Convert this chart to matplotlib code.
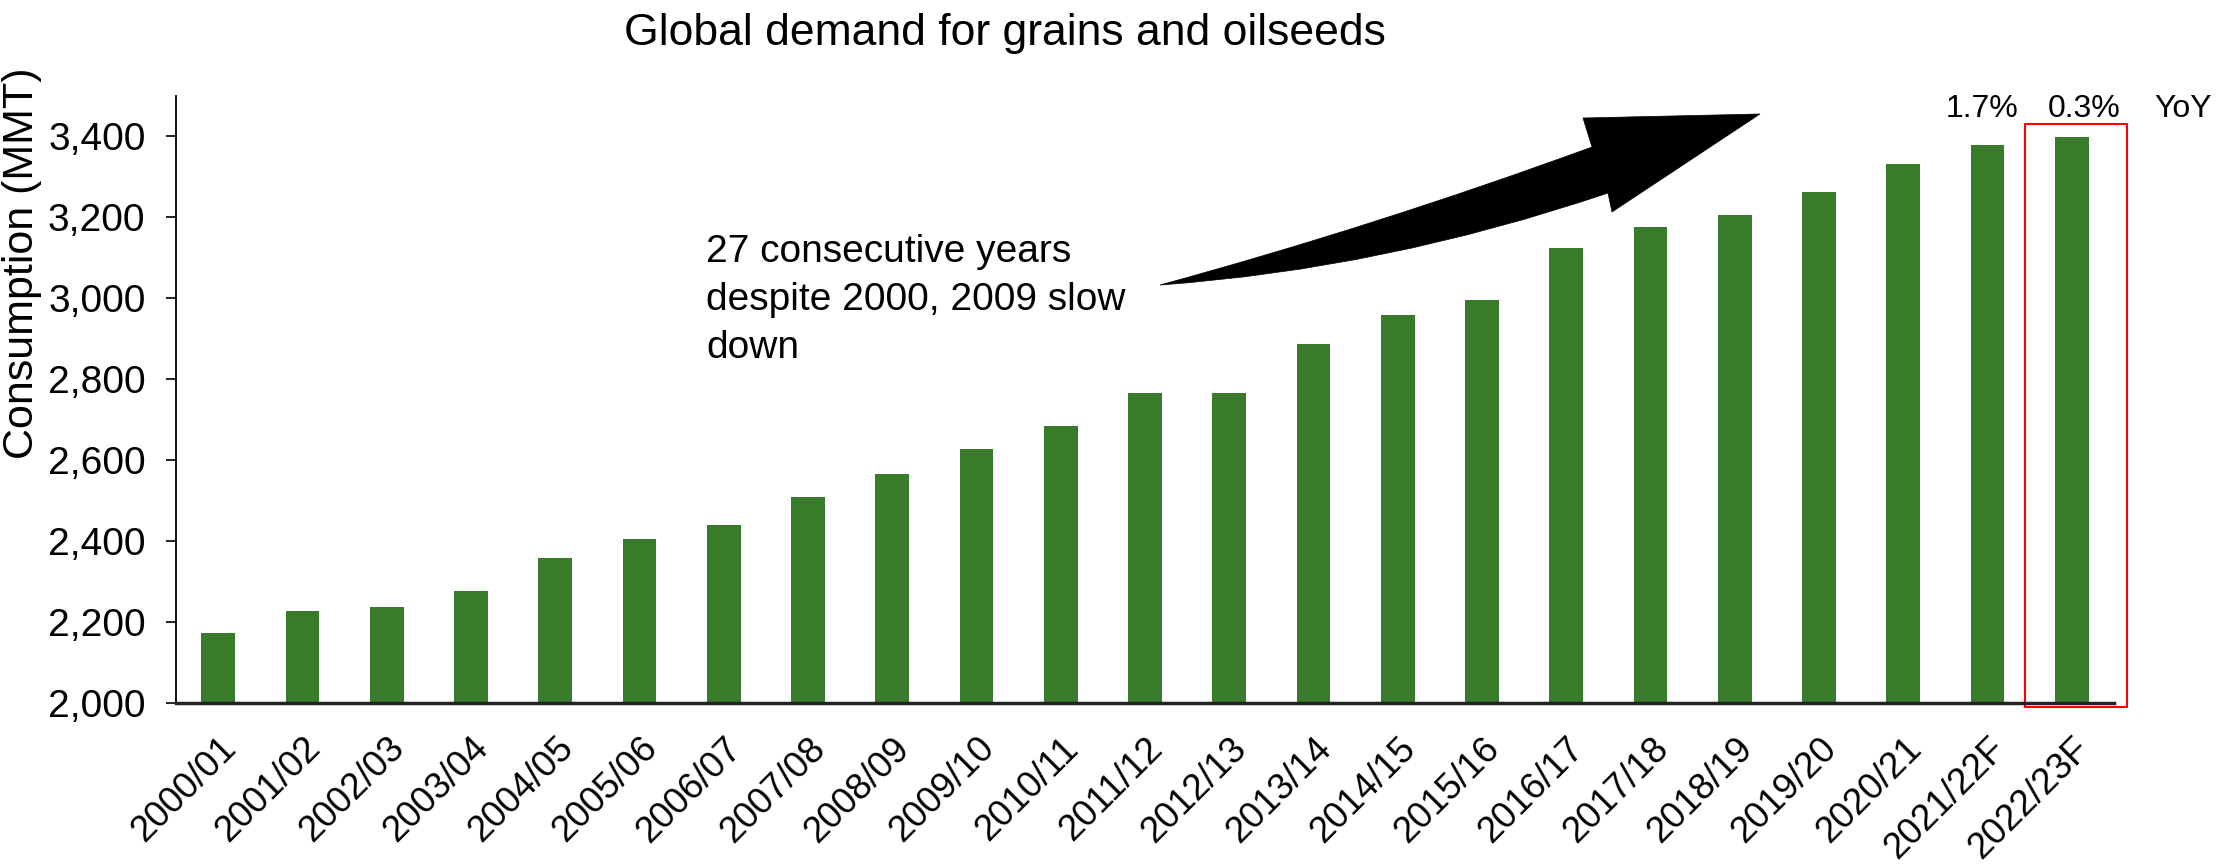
import numpy as np
import matplotlib
matplotlib.use('Agg')
import matplotlib.pyplot as plt
from matplotlib.path import Path
from matplotlib.patches import PathPatch, Rectangle

plt.rcParams['font.family'] = ['Liberation Sans', 'DejaVu Sans']

seasons = ['2000/01', '2001/02', '2002/03', '2003/04', '2004/05', '2005/06',
           '2006/07', '2007/08', '2008/09', '2009/10', '2010/11', '2011/12',
           '2012/13', '2013/14', '2014/15', '2015/16', '2016/17', '2017/18',
           '2018/19', '2019/20', '2020/21', '2021/22F', '2022/23F']
consumption = [2172, 2228, 2236, 2276, 2359, 2406, 2441, 2509, 2567, 2628,
               2684, 2765, 2765, 2888, 2960, 2996, 3124, 3177, 3205, 3262,
               3331, 3380, 3399]
yoy_labels = ['1.7%', '0.3%']
yticks = [2000, 2200, 2400, 2600, 2800, 3000, 3200, 3400]

W, H = 2229, 865
fig = plt.figure(figsize=(W / 100, H / 100), dpi=100)
ax = fig.add_axes([176 / W, 1 - 703 / H, (2114 - 176) / W, (703 - 96) / H])

x = np.arange(len(seasons))
ax.bar(x, consumption, width=0.4, color='#387C2B')
ax.set_xlim(-0.5, len(seasons) - 0.5)
ax.set_ylim(2000, 3500)
ax.set_yticks(yticks)
ax.set_yticklabels([f'{v:,}' for v in yticks])
ax.set_xticks(x)
ax.set_xticklabels(seasons, rotation=45, ha='right', rotation_mode='anchor')
ax.tick_params(axis='x', length=0, pad=20, labelsize=26.5)
ax.tick_params(axis='y', length=7, width=1.2, pad=15, labelsize=28, direction='out')
ax.set_ylabel('Consumption (MMT)', fontsize=31)
ax.yaxis.set_label_coords(-0.069, 0.725)
for s in ['top', 'right']:
    ax.spines[s].set_visible(False)
ax.spines['left'].set_linewidth(1.3)
ax.spines['bottom'].set_linewidth(2.5)
ax.spines['bottom'].set_color('#222222')

# YoY labels above the last two bars
ax.text(20.93, 3447, yoy_labels[0], ha='center', va='baseline', fontsize=23)
ax.text(22.14, 3447, yoy_labels[1], ha='center', va='baseline', fontsize=23)
ax.text(23.32, 3447, 'YoY', ha='center', va='baseline', fontsize=23, clip_on=False)

# red box around the forecast bar
ax.add_patch(Rectangle((21.44, 1990), 1.21, 1440, fill=False, edgecolor='red',
                       linewidth=1.5, clip_on=False))

fig.text(0.451, 1 - 45.5 / H, 'Global demand for grains and oilseeds',
         ha='center', va='baseline', fontsize=32)
fig.text(706 / W, 1 - 234 / H, '27 consecutive years\ndespite 2000, 2009 slow\ndown',
         ha='left', va='top', fontsize=28, linespacing=1.42)

# curved black arrow (pixel coords, y down)
pts = [(1160, 285), (1376, 226), (1592, 147), (1583, 118), (1760, 114),
       (1612, 212), (1608, 193), (1384, 269), (1160, 285), (1160, 285)]
codes = [Path.MOVETO, Path.CURVE3, Path.CURVE3, Path.LINETO, Path.LINETO,
         Path.LINETO, Path.LINETO, Path.CURVE3, Path.CURVE3, Path.CLOSEPOLY]
verts = [(px / W, 1 - py / H) for px, py in pts]
fig.patches.append(PathPatch(Path(verts, codes), facecolor='black',
                             edgecolor='black', lw=0.5, transform=fig.transFigure))

fig.savefig('out.png', dpi=100, facecolor='white')
